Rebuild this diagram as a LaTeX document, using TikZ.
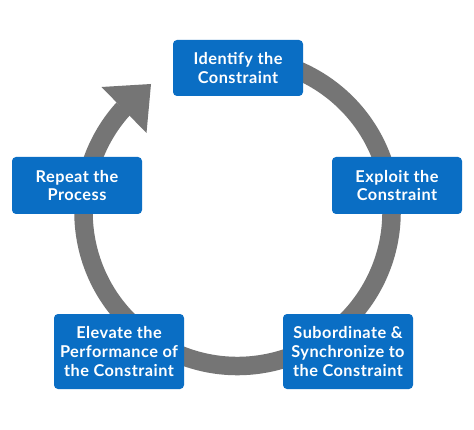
\documentclass[tikz,border=0pt]{standalone}
\usepackage{fontspec}
\setmainfont{Lato}[UprightFont={* Bold}, LetterSpace=3]
\definecolor{boxblue}{RGB}{10,110,196}
\definecolor{ringgray}{RGB}{117,117,117}
\tikzset{
  stagebox/.style={fill=boxblue, rounded corners=4pt, text=white, align=center,
    minimum width=130pt, inner sep=0pt, font=\fontsize{16.3}{18.8}\selectfont},
  ring/.style={draw=ringgray, line width=18.5pt},
}
\begin{document}
\begin{tikzpicture}[x=1pt,y=1pt]
\useasboundingbox[fill=white] (0,0) rectangle (474,429);
\coordinate (c) at (237.5,217);
% ring
\draw[ring] (c) ++(100:154) arc[start angle=100, end angle=-222.2, radius=154];
\coordinate (tip) at (151,345);
\coordinate (w1) at (101.5,342);
\coordinate (w2) at (146.5,296);
\fill[ringgray] (w1) -- (tip) -- (w2) -- cycle;
% boxes
\node[stagebox, minimum height=56pt] (identify) at (238,361) {Identify the\\Constraint};
\node[stagebox, minimum height=57pt] (repeat) at (77,243.5) {Repeat the\\Process};
\node[stagebox, minimum height=57pt] (exploit) at (397,243.5) {Exploit the\\Constraint};
\node[stagebox, minimum height=75pt] (elevate) at (119,77.5) {Elevate the\\Performance of\\the Constraint};
\node[stagebox, minimum height=75pt] (subord) at (348,77.5) {Subordinate \&\\Synchronize to\\the Constraint};
\end{tikzpicture}
\end{document}
